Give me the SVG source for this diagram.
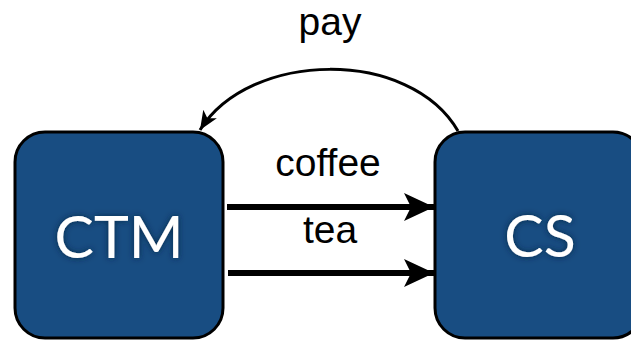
<svg xmlns="http://www.w3.org/2000/svg" width="631" height="340" viewBox="0 0 631 340">
  <defs>
    <style>
      .node { fill: #184d82; stroke: #000; stroke-width: 3; }
      .nlabel { fill: #fff; font-family: "Lato", "Open Sans", sans-serif; font-size: 59px; text-anchor: middle; filter: url(#glow); }
      .elabel { fill: #000; font-family: "Liberation Sans", Arial, sans-serif; font-size: 39px; text-anchor: middle; }
      .edge { fill: none; stroke: #000; }
    </style>
    <filter id="glow" x="-20%" y="-30%" width="140%" height="160%">
      <feGaussianBlur in="SourceAlpha" stdDeviation="3" result="b"/>
      <feFlood flood-color="#0a2440" flood-opacity="0.9"/>
      <feComposite in2="b" operator="in" result="s"/>
      <feMerge>
        <feMergeNode in="s"/>
        <feMergeNode in="SourceGraphic"/>
      </feMerge>
    </filter>
    <marker id="big" markerUnits="userSpaceOnUse" markerWidth="32" markerHeight="30" refX="30" refY="15" orient="auto">
      <path d="M0,1 L30,15 L0,29 L7,15 Z" fill="#000"/>
    </marker>
    <marker id="small" markerUnits="userSpaceOnUse" markerWidth="20" markerHeight="18" refX="19" refY="9" orient="auto">
      <path d="M0,1 L19,9 L0,17 L5,9 Z" fill="#000"/>
    </marker>
  </defs>

  <g id="connectors">
    <path class="edge" d="M458,131 C410,48 250,50 200,130" stroke-width="3" marker-end="url(#small)"/>
    <line class="edge" x1="227" y1="207" x2="434" y2="207" stroke-width="6" marker-end="url(#big)"/>
    <line class="edge" x1="228" y1="273" x2="434" y2="273" stroke-width="6" marker-end="url(#big)"/>
    <text class="elabel" x="330" y="35">pay</text>
    <text class="elabel" x="328" y="176">coffee</text>
    <text class="elabel" x="330" y="243">tea</text>
  </g>

  <g id="ctm">
    <rect class="node" x="15" y="132" width="208" height="206" rx="30"/>
    <text class="nlabel" x="119" y="258">CTM</text>
  </g>

  <g id="cs">
    <rect class="node" x="435" y="132" width="208" height="206" rx="30"/>
    <text class="nlabel" x="540" y="257">CS</text>
  </g>
</svg>
